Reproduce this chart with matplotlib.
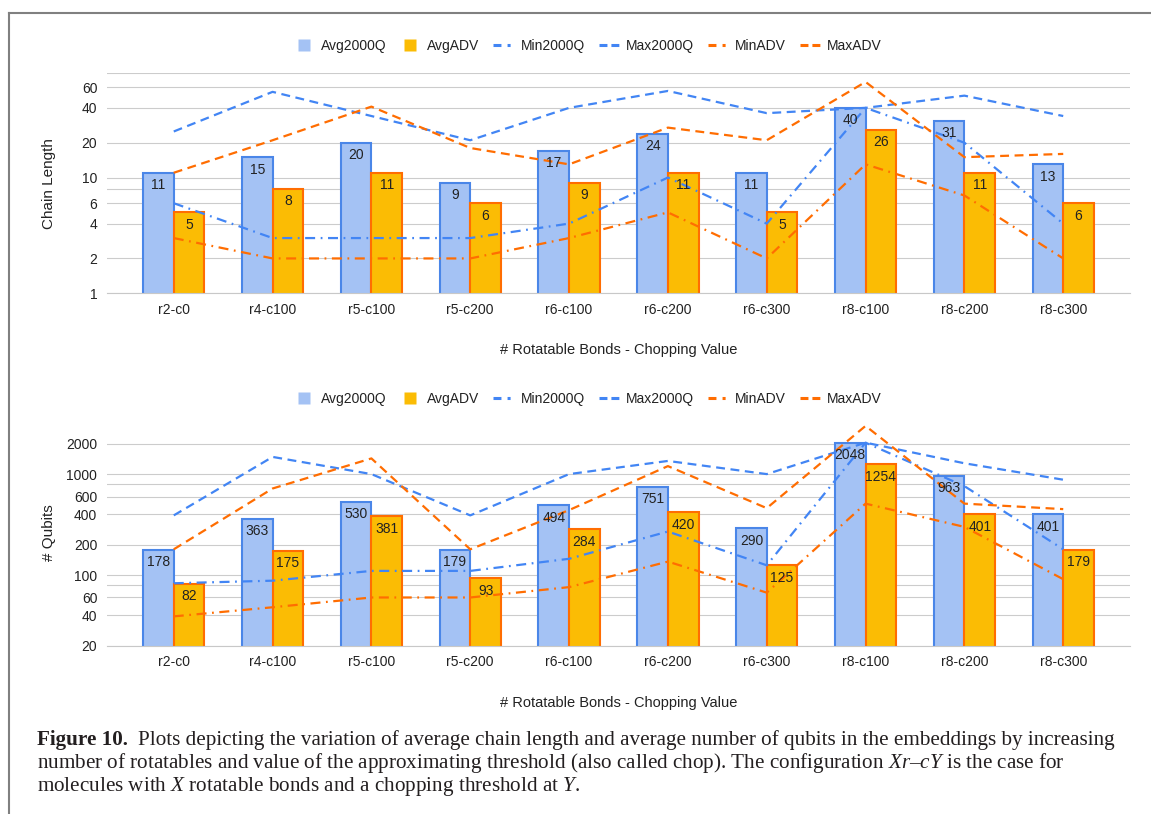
import numpy as np
import matplotlib.pyplot as plt
from matplotlib.lines import Line2D
from matplotlib.ticker import NullLocator

plt.rcParams['font.family'] = ['Liberation Sans', 'DejaVu Sans']
plt.rcParams['mathtext.fontset'] = 'custom'
plt.rcParams['mathtext.rm'] = 'Liberation Serif'
plt.rcParams['mathtext.it'] = 'Liberation Serif:italic'

configs = ['r2-c0', 'r4-c100', 'r5-c100', 'r5-c200', 'r6-c100',
           'r6-c200', 'r6-c300', 'r8-c100', 'r8-c200', 'r8-c300']

# chain length per configuration
chain_avg_2000q = [11, 15, 20, 9, 17, 24, 11, 40, 31, 13]
chain_avg_adv = [5, 8, 11, 6, 9, 11, 5, 26, 11, 6]
chain_min_2000q = [6, 3, 3, 3, 4, 10, 4, 40, 20, 4]
chain_max_2000q = [25, 55, 34, 21, 40, 56, 36, 40, 51, 34]
chain_min_adv = [3, 2, 2, 2, 3, 5, 2, 13, 7, 2]
chain_max_adv = [11, 21, 41, 18, 13, 27, 21, 67, 15, 16]

# number of qubits per configuration
qubit_avg_2000q = [178, 363, 530, 179, 494, 751, 290, 2048, 963, 401]
qubit_avg_adv = [82, 175, 381, 93, 284, 420, 125, 1254, 401, 179]
qubit_min_2000q = [83, 88, 110, 110, 145, 270, 125, 2048, 760, 180]
qubit_max_2000q = [390, 1480, 1000, 390, 1000, 1350, 1000, 2048, 1280, 880]
qubit_min_adv = [39, 48, 60, 60, 76, 136, 67, 510, 300, 91]
qubit_max_adv = [180, 720, 1430, 180, 440, 1200, 460, 3000, 510, 450]

chain_grid = [1, 2, 4, 6, 8, 10, 20, 40, 60, 80]
chain_ticks = [1, 2, 4, 6, 10, 20, 40, 60]
qubit_grid = [20, 40, 60, 80, 100, 200, 400, 600, 800, 1000, 2000]
qubit_ticks = [20, 40, 60, 100, 200, 400, 600, 1000, 2000]

blue_fill, blue_edge, blue_line = '#a4c2f4', '#4a86e8', '#4285f4'
orange_fill, orange_edge, orange_line = '#fbbc04', '#ff6d01', '#ff6d01'
dashdot = (4.5, 2.5, 0.8, 2.5)
dashed = (4, 2.5)

fig = plt.figure(figsize=(11.51, 8.14), dpi=100)


def draw_panel(ax, avg_q, avg_adv, min_q, max_q, min_adv, max_adv,
               ylim, grid_vals, tick_vals, ylabel):
    x = np.arange(len(configs))
    w = 0.31
    ax.set_yscale('log')
    ax.bar(x - w / 2, avg_q, w, color=blue_fill, edgecolor=blue_edge,
           linewidth=1.5, zorder=2)
    ax.bar(x + w / 2, avg_adv, w, color=orange_fill, edgecolor=orange_edge,
           linewidth=1.5, zorder=2)
    for xs, vals in ((x - w / 2, avg_q), (x + w / 2, avg_adv)):
        for xi, v in zip(xs, vals):
            ax.annotate(str(v), (xi, v), xytext=(0, -9), textcoords='offset points',
                        ha='center', va='center', fontsize=10, color='#222222', zorder=4)
    ax.plot(x, min_q, color=blue_line, lw=1.6, dashes=dashdot, zorder=3, clip_on=False)
    ax.plot(x, max_q, color=blue_line, lw=1.6, dashes=dashed, zorder=3, clip_on=False)
    ax.plot(x, min_adv, color=orange_line, lw=1.6, dashes=dashdot, zorder=3, clip_on=False)
    ax.plot(x, max_adv, color=orange_line, lw=1.6, dashes=dashed, zorder=3, clip_on=False)

    ax.set_xlim(-0.675, len(configs) - 1 + 0.675)
    ax.set_ylim(*ylim)
    ax.set_xticks(x)
    ax.set_xticklabels(configs, fontsize=10, color='#222222')
    ax.set_yticks(grid_vals)
    ax.set_yticklabels([str(v) if v in tick_vals else '' for v in grid_vals],
                       fontsize=10, color='#222222')
    ax.yaxis.set_minor_locator(NullLocator())
    ax.tick_params(length=0, pad=7)
    ax.grid(axis='y', color='#cccccc', lw=0.8, zorder=0)
    ax.set_axisbelow(True)
    for side in ('top', 'right', 'left'):
        ax.spines[side].set_visible(False)
    ax.spines['bottom'].set_color('#c8c8c8')
    ax.set_xlabel('# Rotatable Bonds - Chopping Value', fontsize=10.5,
                  color='#222222', labelpad=19)
    ax.set_ylabel(ylabel, fontsize=11, color='#222222')
    ax.yaxis.set_label_coords(-0.050, 0.5)


ax1 = fig.add_axes([0.093, 0.6397, 0.8887, 0.2706])
draw_panel(ax1, chain_avg_2000q, chain_avg_adv, chain_min_2000q, chain_max_2000q,
           chain_min_adv, chain_max_adv, (1, 80), chain_grid, chain_ticks, 'Chain Length')

ax2 = fig.add_axes([0.093, 0.2068, 0.8887, 0.2767])
draw_panel(ax2, qubit_avg_2000q, qubit_avg_adv, qubit_min_2000q, qubit_max_2000q,
           qubit_min_adv, qubit_max_adv, (20, 3400), qubit_grid, qubit_ticks, '# Qubits')

handles = [
    Line2D([], [], marker='s', markersize=9, linestyle='none',
           markerfacecolor=blue_fill, markeredgecolor='none'),
    Line2D([], [], marker='s', markersize=9, linestyle='none',
           markerfacecolor=orange_fill, markeredgecolor='none'),
    Line2D([], [], color=blue_line, lw=2.2, dashes=(2.6, 2.0, 1.0, 2.0)),
    Line2D([], [], color=blue_line, lw=2.2, dashes=(2.6, 1.3)),
    Line2D([], [], color=orange_line, lw=2.2, dashes=(2.6, 2.0, 1.0, 2.0)),
    Line2D([], [], color=orange_line, lw=2.2, dashes=(2.6, 1.3)),
]
names = ['Avg2000Q', 'AvgADV', 'Min2000Q', 'Max2000Q', 'MinADV', 'MaxADV']
for ypos in (0.9435, 0.5098):
    fig.legend(handles, names, loc='center', bbox_to_anchor=(0.5104, ypos), ncol=6,
               frameon=False, fontsize=10, handlelength=1.45, handletextpad=0.5,
               columnspacing=1.0, labelcolor='#222222')

# page frame lines
fig.add_artist(Line2D([9 / 1151, 9 / 1151], [0, 1 - 13 / 814], transform=fig.transFigure,
                      color='#808080', lw=1.5))
fig.add_artist(Line2D([9 / 1151, 1], [1 - 13 / 814, 1 - 13 / 814], transform=fig.transFigure,
                      color='#808080', lw=1.5))

# caption
cap_kw = dict(family='Liberation Serif', fontsize=15.2, color='#231f20', va='center')
x0 = 37 / 1151
bold = fig.text(x0, 1 - 740 / 814, 'Figure 10.', fontweight='bold', **cap_kw)
fig.canvas.draw()
bb = bold.get_window_extent(fig.canvas.get_renderer())
fig.text(bb.x1 / fig.bbox.width + 10 / 1151, 1 - 740 / 814,
         'Plots depicting the variation of average chain length and average number of '
         'qubits in the embeddings by increasing', **cap_kw)
fig.text(x0, 1 - 763 / 814,
         'number of rotatables and value of the approximating threshold (also called chop). '
         'The configuration $Xr$\u2013$cY$ is the case for', **cap_kw)
fig.text(x0, 1 - 787 / 814,
         'molecules with $X$ rotatable bonds and a chopping threshold at $Y$.', **cap_kw)

fig.savefig('out.png', dpi=100)
